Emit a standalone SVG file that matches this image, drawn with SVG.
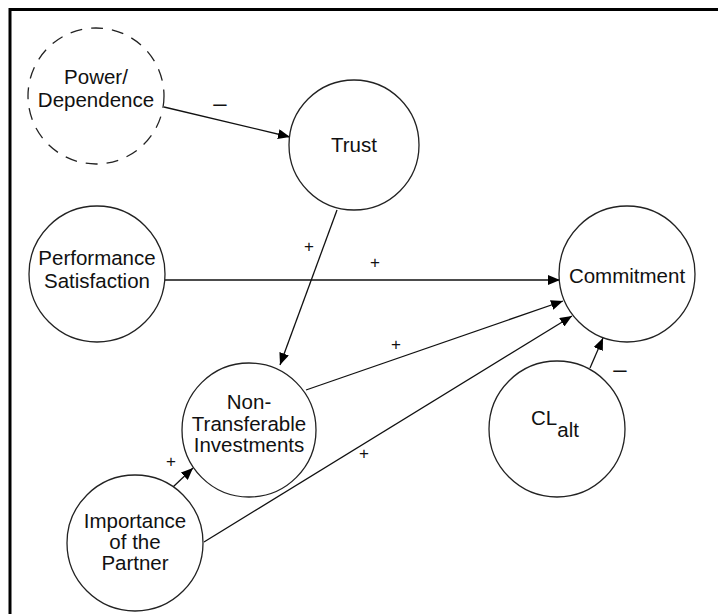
<svg xmlns="http://www.w3.org/2000/svg" width="718" height="614" viewBox="0 0 718 614">
  <defs>
    <marker id="arrow" viewBox="0 0 12 10" refX="12" refY="5" markerWidth="12" markerHeight="10" markerUnits="userSpaceOnUse" orient="auto">
      <path d="M0,0 L12,5 L0,10 Z" fill="#000"/>
    </marker>
    <style>
      .node { fill: #fff; stroke: #222; stroke-width: 1.3; }
      .dashed { stroke-dasharray: 12 9; }
      .lbl { font-family: "Liberation Sans", Arial, sans-serif; font-size: 20.5px; fill: #111; text-anchor: middle; }
      .sign { font-family: "Liberation Sans", Arial, sans-serif; font-size: 17px; fill: #111; text-anchor: middle; }
      .minus { font-size: 24px; }
      .edge { stroke: #111; stroke-width: 1.3; fill: none; marker-end: url(#arrow); }
      .frame { stroke: #000; stroke-width: 3; fill: none; }
    </style>
  </defs>

  <rect width="718" height="614" fill="#fff"/>

  <!-- outer frame: top and left rules only -->
  <path class="frame" d="M10,614 L10,9.5 L718,9.5"/>

  <g id="connectors">
    <line class="edge" x1="164" y1="107" x2="290" y2="137"/>
    <line class="edge" x1="337" y1="210" x2="280" y2="365"/>
    <line class="edge" x1="165" y1="280" x2="560" y2="280"/>
    <line class="edge" x1="306" y1="390" x2="563" y2="301"/>
    <line class="edge" x1="204" y1="542" x2="572" y2="316"/>
    <line class="edge" x1="173" y1="487" x2="193" y2="468"/>
    <line class="edge" x1="590" y1="368" x2="603" y2="338"/>
    <text class="sign minus" x="220" y="111">–</text>
    <text class="sign" x="309" y="252">+</text>
    <text class="sign" x="375" y="268">+</text>
    <text class="sign" x="396" y="350">+</text>
    <text class="sign" x="364" y="459">+</text>
    <text class="sign" x="171" y="467">+</text>
    <text class="sign minus" x="620" y="377">–</text>
  </g>

  <g id="power-dependence">
    <circle class="node dashed" cx="96" cy="96" r="68"/>
    <text class="lbl" x="96" y="84">Power/</text>
    <text class="lbl" x="96" y="107">Dependence</text>
  </g>

  <g id="trust">
    <circle class="node" cx="354" cy="145" r="65"/>
    <text class="lbl" x="354" y="152">Trust</text>
  </g>

  <g id="performance-satisfaction">
    <circle class="node" cx="97" cy="274" r="68"/>
    <text class="lbl" x="97" y="265">Performance</text>
    <text class="lbl" x="97" y="288">Satisfaction</text>
  </g>

  <g id="commitment">
    <circle class="node" cx="627" cy="274" r="68"/>
    <text class="lbl" x="627" y="283">Commitment</text>
  </g>

  <g id="non-transferable-investments">
    <circle class="node" cx="249" cy="430" r="67"/>
    <text class="lbl" x="249" y="409">Non-</text>
    <text class="lbl" x="249" y="431">Transferable</text>
    <text class="lbl" x="249" y="452">Investments</text>
  </g>

  <g id="importance-of-partner">
    <circle class="node" cx="135" cy="543" r="68"/>
    <text class="lbl" x="135" y="528">Importance</text>
    <text class="lbl" x="135" y="549">of the</text>
    <text class="lbl" x="135" y="570">Partner</text>
  </g>

  <g id="cl-alt">
    <circle class="node" cx="557" cy="429" r="68"/>
    <text class="lbl" x="555" y="425">CL<tspan dy="12">alt</tspan></text>
  </g>
</svg>
